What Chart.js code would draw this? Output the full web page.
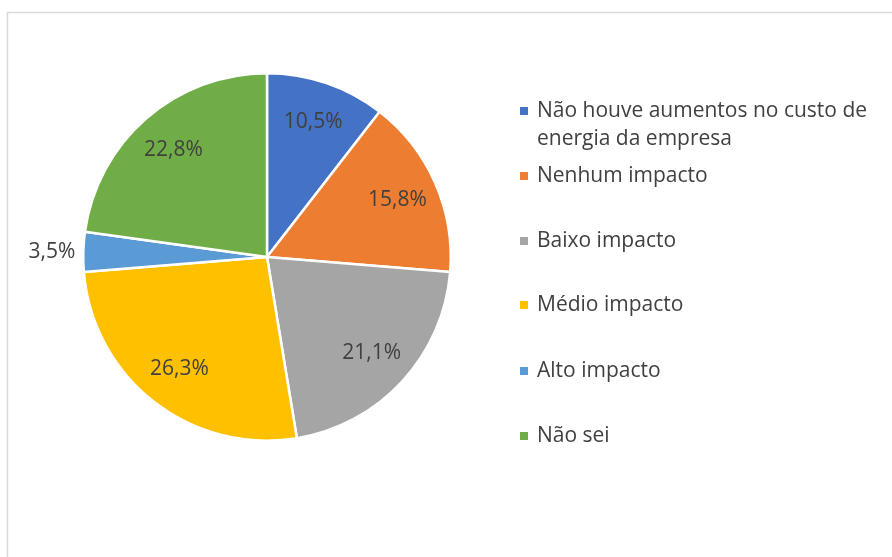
<!DOCTYPE html>
<html>
<head>
<meta charset="utf-8">
<script src="https://cdn.jsdelivr.net/npm/chart.js@4.4.1/dist/chart.umd.min.js"></script>
<style>
  html, body { margin: 0; padding: 0; background: #fff; }
  #wrap { position: relative; width: 892px; height: 557px; }
</style>
</head>
<body>
<div id="wrap"><canvas id="pieChart" width="892" height="557"></canvas></div>
<script>
// data
const categories = [
    ['Não houve aumentos no custo de', 'energia da empresa'],
    'Nenhum impacto',
    'Baixo impacto',
    'Médio impacto',
    'Alto impacto',
    'Não sei'
];
const shares = [10.5, 15.8, 21.1, 26.3, 3.5, 22.8];
const sliceColors = ['#4472c4', '#ed7d31', '#a5a5a5', '#ffc000', '#5b9bd5', '#70ad47'];

const FONT = '"Open Sans", Lato, sans-serif';
const TEXT_COLOR = '#404040';

function fmt(v) {
    return v.toFixed(1).replace('.', ',') + '%';
}

// outer frame like the office chart border
const framePlugin = {
    id: 'frame',
    beforeDraw(chart) {
        const c = chart.ctx;
        c.save();
        c.strokeStyle = '#d9d9d9';
        c.lineWidth = 1.5;
        c.strokeRect(7.5, 12.5, 900, 560);
        c.restore();
    }
};

// value labels inside slices (small one goes outside)
const valueLabels = {
    id: 'valueLabels',
    afterDatasetsDraw(chart) {
        const c = chart.ctx;
        const meta = chart.getDatasetMeta(0);
        c.save();
        c.font = '21px ' + FONT;
        c.fillStyle = TEXT_COLOR;
        c.textBaseline = 'middle';
        meta.data.forEach((arc, i) => {
            const mid = (arc.startAngle + arc.endAngle) / 2;
            const val = shares[i];
            let x, y;
            if (val < 5) {
                const r = arc.outerRadius + 8;
                x = arc.x + Math.cos(mid) * r;
                y = arc.y + Math.sin(mid) * r;
                c.textAlign = 'right';
            } else {
                const r = arc.outerRadius * 0.775;
                x = arc.x + Math.cos(mid) * r;
                y = arc.y + Math.sin(mid) * r;
                c.textAlign = 'center';
            }
            c.fillText(fmt(val), x, y);
        });
        c.restore();
    }
};

// legend on the right, drawn by hand to keep the wrapped first entry
const sideLegend = {
    id: 'sideLegend',
    afterDraw(chart) {
        const c = chart.ctx;
        const rows = [111, 176, 241, 305, 371, 436];
        c.save();
        c.font = '21px ' + FONT;
        c.textBaseline = 'middle';
        c.textAlign = 'left';
        categories.forEach((lab, i) => {
            const y = rows[i];
            c.fillStyle = sliceColors[i];
            c.fillRect(520, y - 4, 8, 8);
            c.fillStyle = TEXT_COLOR;
            const lines = Array.isArray(lab) ? lab : [lab];
            lines.forEach((ln, j) => c.fillText(ln, 537, y + j * 28));
        });
        c.restore();
    }
};

const ctx = document.getElementById('pieChart').getContext('2d');
new Chart(ctx, {
    type: 'pie',
    data: {
        labels: categories,
        datasets: [{
            data: shares,
            backgroundColor: sliceColors,
            borderColor: '#ffffff',
            borderWidth: 2.5
        }]
    },
    options: {
        responsive: false,
        animation: false,
        events: [],
        layout: { padding: { left: 82, right: 440, top: 72, bottom: 115 } },
        plugins: {
            legend: { display: false },
            tooltip: { enabled: false }
        }
    },
    plugins: [framePlugin, valueLabels, sideLegend]
});
</script>
</body>
</html>
